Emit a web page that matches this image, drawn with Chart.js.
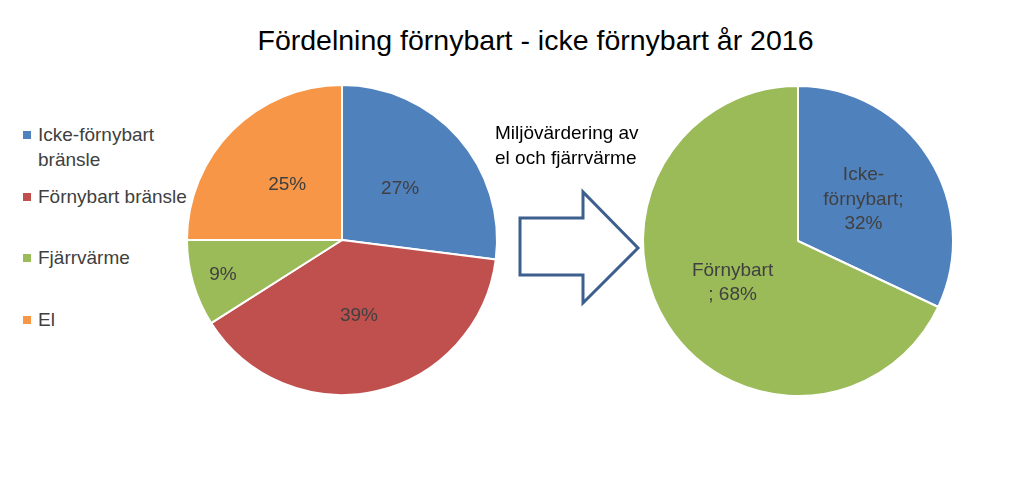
<!DOCTYPE html>
<html>
<head>
<meta charset="utf-8">
<script src="https://cdn.jsdelivr.net/npm/chart.js@4.4.1/dist/chart.umd.min.js"></script>
<style>
  body { margin: 0; background: #fff; font-family: "Liberation Sans", Arial, sans-serif; }
  #wrap { position: relative; width: 1023px; height: 481px; overflow: hidden; }
  #title { position: absolute; left: 24px; top: 24px; width: 1023px; text-align: center; font-size: 28.5px; color: #000; }
  .pie { position: absolute; width: 320px; height: 320px; }
  #leftPie { left: 182px; top: 80px; }
  #rightPie { left: 638px; top: 81px; }
  #legend { position: absolute; left: 0; top: 0; }
  .item { position: absolute; left: 22px; font-size: 19px; color: #404040; line-height: 25px; white-space: nowrap; }
  .item i { position: absolute; left: 1px; top: 9px; width: 8px; height: 8px; }
  .item span { display: block; margin-left: 16px; }
  #note { position: absolute; left: 495px; top: 120px; font-size: 19px; line-height: 25px; color: #000; }
  #arrow { position: absolute; left: 0; top: 0; }
</style>
</head>
<body>
<div id="wrap">
  <div id="title">Fördelning förnybart - icke förnybart år 2016</div>
  <div id="legend"></div>
  <div class="pie" id="leftPie"><canvas id="leftChart" width="320" height="320"></canvas></div>
  <div id="note">Miljövärdering av<br>el och fjärrvärme</div>
  <svg id="arrow" width="1023" height="481">
    <polygon points="520,218 583,218 583,192 638,248 583,303 583,275 520,275" fill="#fff" stroke="#3c5f8e" stroke-width="3" stroke-linejoin="miter"/>
  </svg>
  <div class="pie" id="rightPie"><canvas id="rightChart" width="320" height="320"></canvas></div>
</div>
<script>
const leftLabels = ['Icke-förnybart bränsle', 'Förnybart bränsle', 'Fjärrvärme', 'El'];
const leftLegendLines = [['Icke-förnybart', 'bränsle'], ['Förnybart bränsle'], ['Fjärrvärme'], ['El']];
const leftValues = [27, 39, 9, 25];
const leftColors = ['#4f81bd', '#c0504d', '#9bbb59', '#f79646'];

const rightLabels = ['Icke-förnybart', 'Förnybart'];
const rightNameLines = [['Icke-', 'förnybart;'], ['Förnybart']];
const rightPctPrefix = ['', '; '];
const rightValues = [32, 68];
const rightColors = ['#4f81bd', '#9bbb59'];

// html legend for the left pie
const legend = document.getElementById('legend');
leftLegendLines.forEach((lines, i) => {
    const div = document.createElement('div');
    div.className = 'item';
    div.style.top = (122 + i * 61.7) + 'px';
    div.innerHTML = `<i style="background:${leftColors[i]}"></i><span>${lines.join('<br>')}</span>`;
    legend.appendChild(div);
});

// draws text inside each slice
const sliceLabels = {
    id: 'sliceLabels',
    afterDatasetsDraw(chart, args, opts) {
        const c = chart.ctx;
        const meta = chart.getDatasetMeta(0);
        const values = chart.data.datasets[0].data;
        c.save();
        c.font = '19px "Liberation Sans", Arial, sans-serif';
        c.fillStyle = '#404040';
        c.textAlign = 'center';
        c.textBaseline = 'middle';
        meta.data.forEach((arc, i) => {
            const mid = (arc.startAngle + arc.endAngle) / 2;
            const frac = values[i] < 10 ? 0.8 : 0.5;
            const x = arc.x + Math.cos(mid) * arc.outerRadius * frac;
            const y = arc.y + Math.sin(mid) * arc.outerRadius * frac;
            const lines = opts.lines(i, values[i]);
            const lh = 24.5;
            lines.forEach((t, k) => {
                c.fillText(t, x, y + (k - (lines.length - 1) / 2) * lh);
            });
        });
        c.restore();
    }
};

function pieOptions(lines) {
    return {
        responsive: false,
        animation: false,
        layout: { padding: 4 },
        plugins: {
            legend: { display: false },
            tooltip: { enabled: false },
            sliceLabels: { lines: lines }
        }
    };
}

new Chart(document.getElementById('leftChart').getContext('2d'), {
    type: 'pie',
    data: {
        labels: leftLabels,
        datasets: [{
            data: leftValues,
            backgroundColor: leftColors,
            borderColor: '#fff',
            borderWidth: 2
        }]
    },
    options: pieOptions((i, v) => [v + '%']),
    plugins: [sliceLabels]
});

new Chart(document.getElementById('rightChart').getContext('2d'), {
    type: 'pie',
    data: {
        labels: rightLabels,
        datasets: [{
            data: rightValues,
            backgroundColor: rightColors,
            borderColor: '#fff',
            borderWidth: 2
        }]
    },
    options: pieOptions((i, v) => [...rightNameLines[i], rightPctPrefix[i] + v + '%']),
    plugins: [sliceLabels]
});
</script>
</body>
</html>
